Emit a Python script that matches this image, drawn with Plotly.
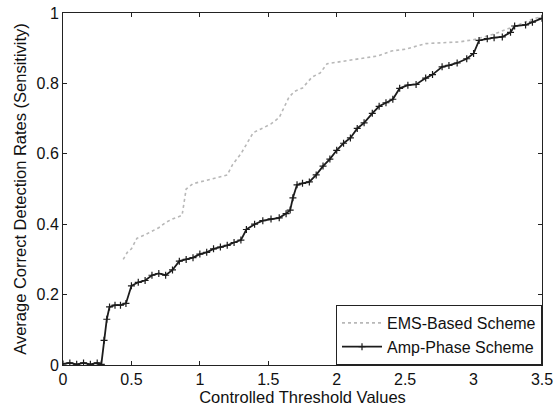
import plotly.graph_objects as go

# Amp-Phase Scheme (dark curve)
amp_x = [0.00, 0.05, 0.10, 0.15, 0.20, 0.25, 0.28, 0.30, 0.32, 0.34, 0.38, 0.42, 0.46,
         0.50, 0.55, 0.60, 0.65, 0.70, 0.75, 0.80, 0.85, 0.90, 0.95, 1.00, 1.05, 1.10,
         1.15, 1.20, 1.25, 1.30, 1.34, 1.40, 1.46, 1.52, 1.58, 1.63, 1.66, 1.68, 1.71,
         1.75, 1.80, 1.85, 1.90, 1.95, 2.00, 2.05, 2.10, 2.15, 2.20, 2.26, 2.31, 2.36,
         2.41, 2.46, 2.52, 2.58, 2.65, 2.70, 2.77, 2.82, 2.88, 2.95, 3.00, 3.04, 3.10,
         3.15, 3.21, 3.27, 3.30, 3.38, 3.43, 3.50]
amp_y = [0.003, 0.006, 0.002, 0.006, 0.002, 0.006, 0.002, 0.07, 0.13, 0.165, 0.17, 0.17, 0.175,
         0.225, 0.235, 0.24, 0.255, 0.26, 0.255, 0.27, 0.295, 0.30, 0.305, 0.315, 0.32, 0.33,
         0.335, 0.34, 0.348, 0.355, 0.385, 0.40, 0.41, 0.415, 0.418, 0.43, 0.44, 0.475, 0.512,
         0.516, 0.52, 0.54, 0.565, 0.585, 0.61, 0.63, 0.645, 0.672, 0.688, 0.715, 0.735, 0.745,
         0.755, 0.786, 0.795, 0.797, 0.815, 0.825, 0.847, 0.851, 0.858, 0.87, 0.885, 0.922, 0.927,
         0.93, 0.932, 0.945, 0.963, 0.966, 0.974, 0.985]

# EMS-Based Scheme (light grey curve)
ems_x = [0.44, 0.47, 0.50, 0.54, 0.60, 0.65, 0.70, 0.75, 0.80, 0.87, 0.90, 0.95, 1.00,
         1.10, 1.20, 1.24, 1.30, 1.36, 1.39, 1.46, 1.52, 1.58, 1.65, 1.69, 1.75, 1.82,
         1.88, 1.93, 2.00, 2.10, 2.20, 2.30, 2.40, 2.50, 2.65, 2.75, 2.90, 3.01, 3.15,
         3.25, 3.35, 3.45, 3.50]
ems_y = [0.30, 0.32, 0.33, 0.36, 0.37, 0.38, 0.39, 0.405, 0.415, 0.425, 0.50, 0.515, 0.52,
         0.53, 0.54, 0.57, 0.60, 0.64, 0.66, 0.673, 0.685, 0.703, 0.76, 0.777, 0.787, 0.818,
         0.83, 0.856, 0.86, 0.865, 0.872, 0.878, 0.892, 0.897, 0.913, 0.915, 0.918, 0.925, 0.94,
         0.955, 0.97, 0.985, 0.99]

x_ticks = [0, 0.5, 1, 1.5, 2, 2.5, 3, 3.5]
x_tick_labels = ["0", "0.5", "1", "1.5", "2", "2.5", "3", "3.5"]
y_ticks = [0, 0.2, 0.4, 0.6, 0.8, 1]
y_tick_labels = ["0", "0.2", "0.4", "0.6", "0.8", "1"]

FONT = "Liberation Sans, Arial, Helvetica, sans-serif"

fig = go.Figure()
fig.add_trace(go.Scatter(
    x=ems_x, y=ems_y, mode="lines", name="EMS-Based Scheme",
    line=dict(color="#b8b8b8", width=1.6, dash="dot"),
))
fig.add_trace(go.Scatter(
    x=amp_x, y=amp_y, mode="lines+markers", name="Amp-Phase Scheme",
    line=dict(color="#1c1c1c", width=1.8),
    marker=dict(symbol="cross-thin", size=5, color="#1c1c1c",
                line=dict(color="#1c1c1c", width=1.2)),
))

axis_common = dict(
    showline=True, linecolor="#222", linewidth=1, mirror="ticks",
    ticks="inside", ticklen=4, tickcolor="#222", showgrid=False, zeroline=False,
    tickfont=dict(family=FONT, size=16, color="#111"), automargin=False,
)

fig.update_layout(
    width=556, height=411,
    margin=dict(l=63, r=14, t=13, b=46),
    paper_bgcolor="white", plot_bgcolor="white",
    font=dict(family=FONT, color="#111"),
    xaxis=dict(range=[0, 3.5], tickvals=x_ticks, ticktext=x_tick_labels,
               title=dict(text="Controlled Threshold Values",
                          font=dict(family=FONT, size=16.5), standoff=3),
               **axis_common),
    yaxis=dict(range=[0, 1], tickvals=y_ticks, ticktext=y_tick_labels,
               title=dict(text="Average Correct Detection Rates (Sensitivity)",
                          font=dict(family=FONT, size=16.5), standoff=5),
               **axis_common),
    legend=dict(x=1, y=0, xanchor="right", yanchor="bottom",
                bgcolor="white", bordercolor="#222", borderwidth=1,
                font=dict(family=FONT, size=16, color="#111"),
                tracegroupgap=0, itemwidth=40),
    showlegend=True,
)

fig.write_html("out.html")
